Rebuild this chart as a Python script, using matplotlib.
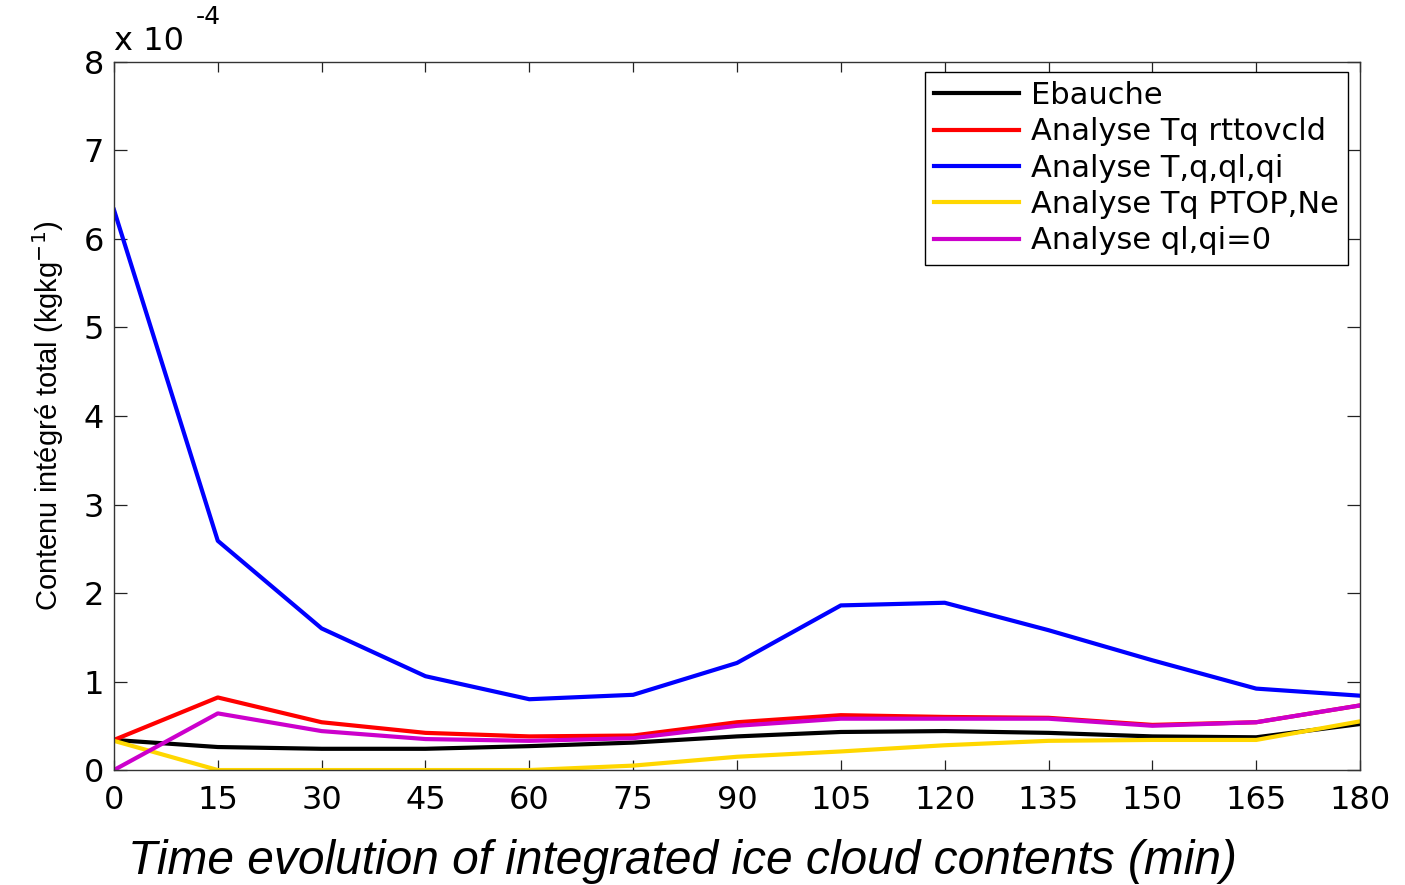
import numpy as np
import matplotlib
matplotlib.use("Agg")
import matplotlib.pyplot as plt

# time axis (min) and integrated ice content, in units of 1e-4 kg/kg
minutes = [0, 15, 30, 45, 60, 75, 90, 105, 120, 135, 150, 165, 180]

ebauche   = [0.34, 0.26, 0.24, 0.24, 0.27, 0.31, 0.38, 0.43, 0.44, 0.42, 0.38, 0.37, 0.52]
tq_rttov  = [0.34, 0.82, 0.54, 0.42, 0.38, 0.39, 0.54, 0.62, 0.60, 0.59, 0.51, 0.54, 0.73]
tq_qlqi   = [6.33, 2.59, 1.60, 1.06, 0.80, 0.85, 1.21, 1.86, 1.89, 1.58, 1.24, 0.92, 0.84]
tq_ptop   = [0.33, 0.00, 0.00, 0.00, 0.00, 0.05, 0.15, 0.21, 0.28, 0.33, 0.34, 0.34, 0.55]
qlqi_zero = [0.00, 0.64, 0.44, 0.35, 0.33, 0.36, 0.50, 0.58, 0.58, 0.58, 0.50, 0.54, 0.73]

labels = ["Ebauche", "Analyse Tq rttovcld", "Analyse T,q,ql,qi",
          "Analyse Tq PTOP,Ne", "Analyse ql,qi=0"]
colors = ["#000000", "#ff0000", "#0000ff", "#ffd700", "#cc00cc"]
series = [ebauche, tq_rttov, tq_qlqi, tq_ptop, qlqi_zero]

SCALE = 1e-4

fig = plt.figure(figsize=(14.05, 8.85), dpi=100)
ax = fig.add_axes([0.0811, 0.1299, 0.8869, 0.8001])

for vals, col, lab in zip(series, colors, labels):
    ax.plot(minutes, np.array(vals) * SCALE, color=col, lw=3.0, label=lab)

ax.set_xlim(0, 180)
ax.set_ylim(0, 8 * SCALE)
ax.set_xticks(np.arange(0, 181, 15))
ax.set_yticks(np.arange(0, 9) * SCALE)
ax.set_yticklabels([str(i) for i in range(9)])

tick_font = dict(family="DejaVu Sans", size=23)
for lbl in ax.get_xticklabels() + ax.get_yticklabels():
    lbl.set_fontfamily("DejaVu Sans")
    lbl.set_fontsize(23)

ax.tick_params(axis="x", direction="in", length=7.5, width=0.9, pad=11,
               top=True, colors="#222222", labelcolor="black")
ax.tick_params(axis="y", direction="in", length=9.5, width=0.9, pad=7,
               right=True, colors="#222222", labelcolor="black")
for sp in ax.spines.values():
    sp.set_linewidth(1.0)
    sp.set_color("#333333")

# exponent label above the y axis
fig.text(0.081, 0.953, "x 10", fontdict=tick_font, ha="left", va="center")
fig.text(0.1395, 0.981, "-4", fontdict=dict(family="DejaVu Sans", size=18),
         ha="left", va="center")

ax.set_ylabel("Contenu intégré total (kgkg$^{-1}$)", fontfamily="Liberation Sans",
              fontsize=21, labelpad=13)

fig.text(0.091, 0.027, "Time evolution of integrated ice cloud contents (min)",
         fontfamily="Liberation Sans", fontstyle="italic", fontsize=34.5,
         ha="left", va="center")

leg = ax.legend(loc="upper right", bbox_to_anchor=(0.9904, 0.986),
                prop=dict(family="DejaVu Sans", size=22), frameon=True,
                fancybox=False, edgecolor="black", framealpha=1,
                handlelength=2.8, handletextpad=0.38, labelspacing=0.24,
                borderpad=0.3, borderaxespad=0)
leg.get_frame().set_linewidth(1.0)

fig.savefig("out.png", dpi=100)
